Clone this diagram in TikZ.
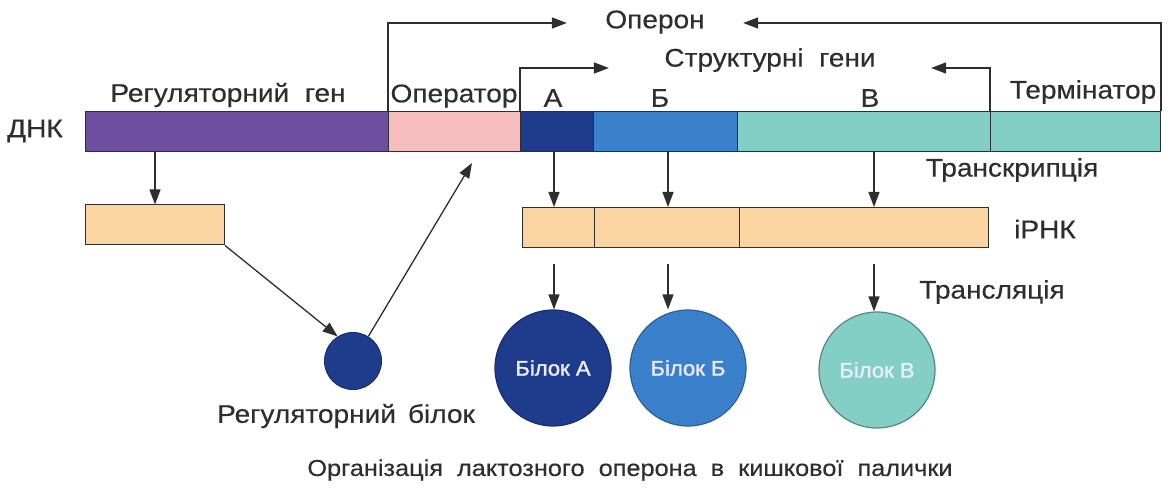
\documentclass[tikz,border=0pt]{standalone}
\usepackage{fontspec}
\setmainfont{Liberation Sans}[FakeStretch=1.1, FakeBold=0.4]
\newfontfamily\bilokfont{Liberation Sans}[FakeStretch=1.05, FakeBold=1.6]
\usetikzlibrary{arrows.meta,positioning,calc}
\definecolor{tekst}{HTML}{2E2E2E}
\definecolor{fiolet}{HTML}{6E4E9F}
\definecolor{rozh}{HTML}{F6BDBD}
\definecolor{syn}{HTML}{1F3B8C}
\definecolor{blakyt}{HTML}{3B80CB}
\definecolor{biruza}{HTML}{83CFC5}
\definecolor{persyk}{HTML}{FBD5A1}

\begin{document}
\begin{tikzpicture}[x=1pt,y=-1pt,
  font=\fontsize{25.5}{28}\selectfont, text=tekst,
  seg/.style={draw=tekst, line width=1pt, minimum height=40pt, inner sep=0pt, anchor=west},
  bilok/.style={circle, line width=1.2pt, inner sep=0pt, minimum size=116pt,
    text=white!92!blue, font=\bilokfont\fontsize{21}{24}\selectfont},
  strilka/.style={draw=tekst, line width=1.3pt, -{Triangle[length=15pt,width=11pt]}}]
  \useasboundingbox (0,0) rectangle (1171,489);

  % ДНК
  \foreach \n/\x/\w/\c in {reg/85/303/fiolet, oper/388/132/rozh, genA/520/73/syn,
      genB/593/144/blakyt, genV/737/253/biruza, term/990/170/biruza}
    \node[seg, fill=\c, minimum width=\w pt] (\n) at (\x,132) {};
  \node (dnk) at (35,131) {ДНК};

  % Підписи над ДНК
  \node (reglbl) at (228,95) {Регуляторний\ \ ген};
  \node (operlbl) at (454,96) {Оператор};
  \node (lblA) at (553,98) {А};
  \node (lblB) at (660,98) {Б};
  \node (lblV) at (870,98) {В};
  \node (termlbl) at (1083,92) {Термінатор};
  \node (operon) at (655,22) {Оперон};
  \node (strukt) at (770,60) {Структурні\ \ гени};

  % Оперон і структурні гени
  \draw[strilka] (oper.north west) |- ([xshift=-35pt,yshift=-1pt]operon.west);
  \draw[strilka] (term.north east) |- ([xshift=35pt,yshift=-1pt]operon.east);
  \draw[strilka] (genA.north west) |- ([xshift=-52pt,yshift=-8pt]strukt.west);
  \draw[strilka] (term.north west) |- ([xshift=52pt,yshift=-8pt]strukt.east);

  % іРНК
  \node[seg, fill=persyk, minimum width=139pt] (mreg) at (85,225) {};
  \foreach \n/\x/\w in {mA/522/72, mB/594/145, mV/739/249}
    \node[seg, fill=persyk, minimum width=\w pt] (\n) at (\x,227.5) {};
  \node (trnskr) at (1012,170) {Транскрипція};
  \node (irnk) at (1045,229) {іРНК};
  \node (trnsl) at (992,292) {Трансляція};

  % Білки
  \node[bilok, fill=syn, draw=syn!80!black] (bA) at (553,368) {Білок А};
  \node[bilok, fill=blakyt, draw=blakyt!75!black] (bB) at (688,368) {Білок Б};
  \node[bilok, fill=biruza, draw=biruza!65!black] (bV) at (877,370) {Білок В};
  \node[circle, fill=syn, draw=syn!80!black, line width=1pt, minimum size=57pt] (rbilok) at (353,361) {};
  \node (rbiloklbl) at (346,416) {Регуляторний\,\ білок};

  % Транскрипція і трансляція
  \draw[strilka] (mreg.north |- reg.south) -- (mreg.north);
  \foreach \n/\x in {A/554, B/668, V/874} {
    \draw[strilka] (\x,0 |- gen\n.south) -- (\x,0 |- m\n.north);
    \draw[strilka] ($(\x,0 |- m\n.south)+(0,16)$) -- (\x,0 |- b\n.north);
  }
  \coordinate (operlow) at (472,163);
  \draw[strilka] (mreg.south east) -- (rbilok.122);
  \draw[strilka] (rbilok.58) -- (operlow);

  % Підпис
  \node[font=\fontsize{23}{26}\selectfont] (caption) at (630,470)
    {Організація\ \ лактозного\ \ оперона\ \ в\ \ кишкової\ \ палички};
\end{tikzpicture}
\end{document}
